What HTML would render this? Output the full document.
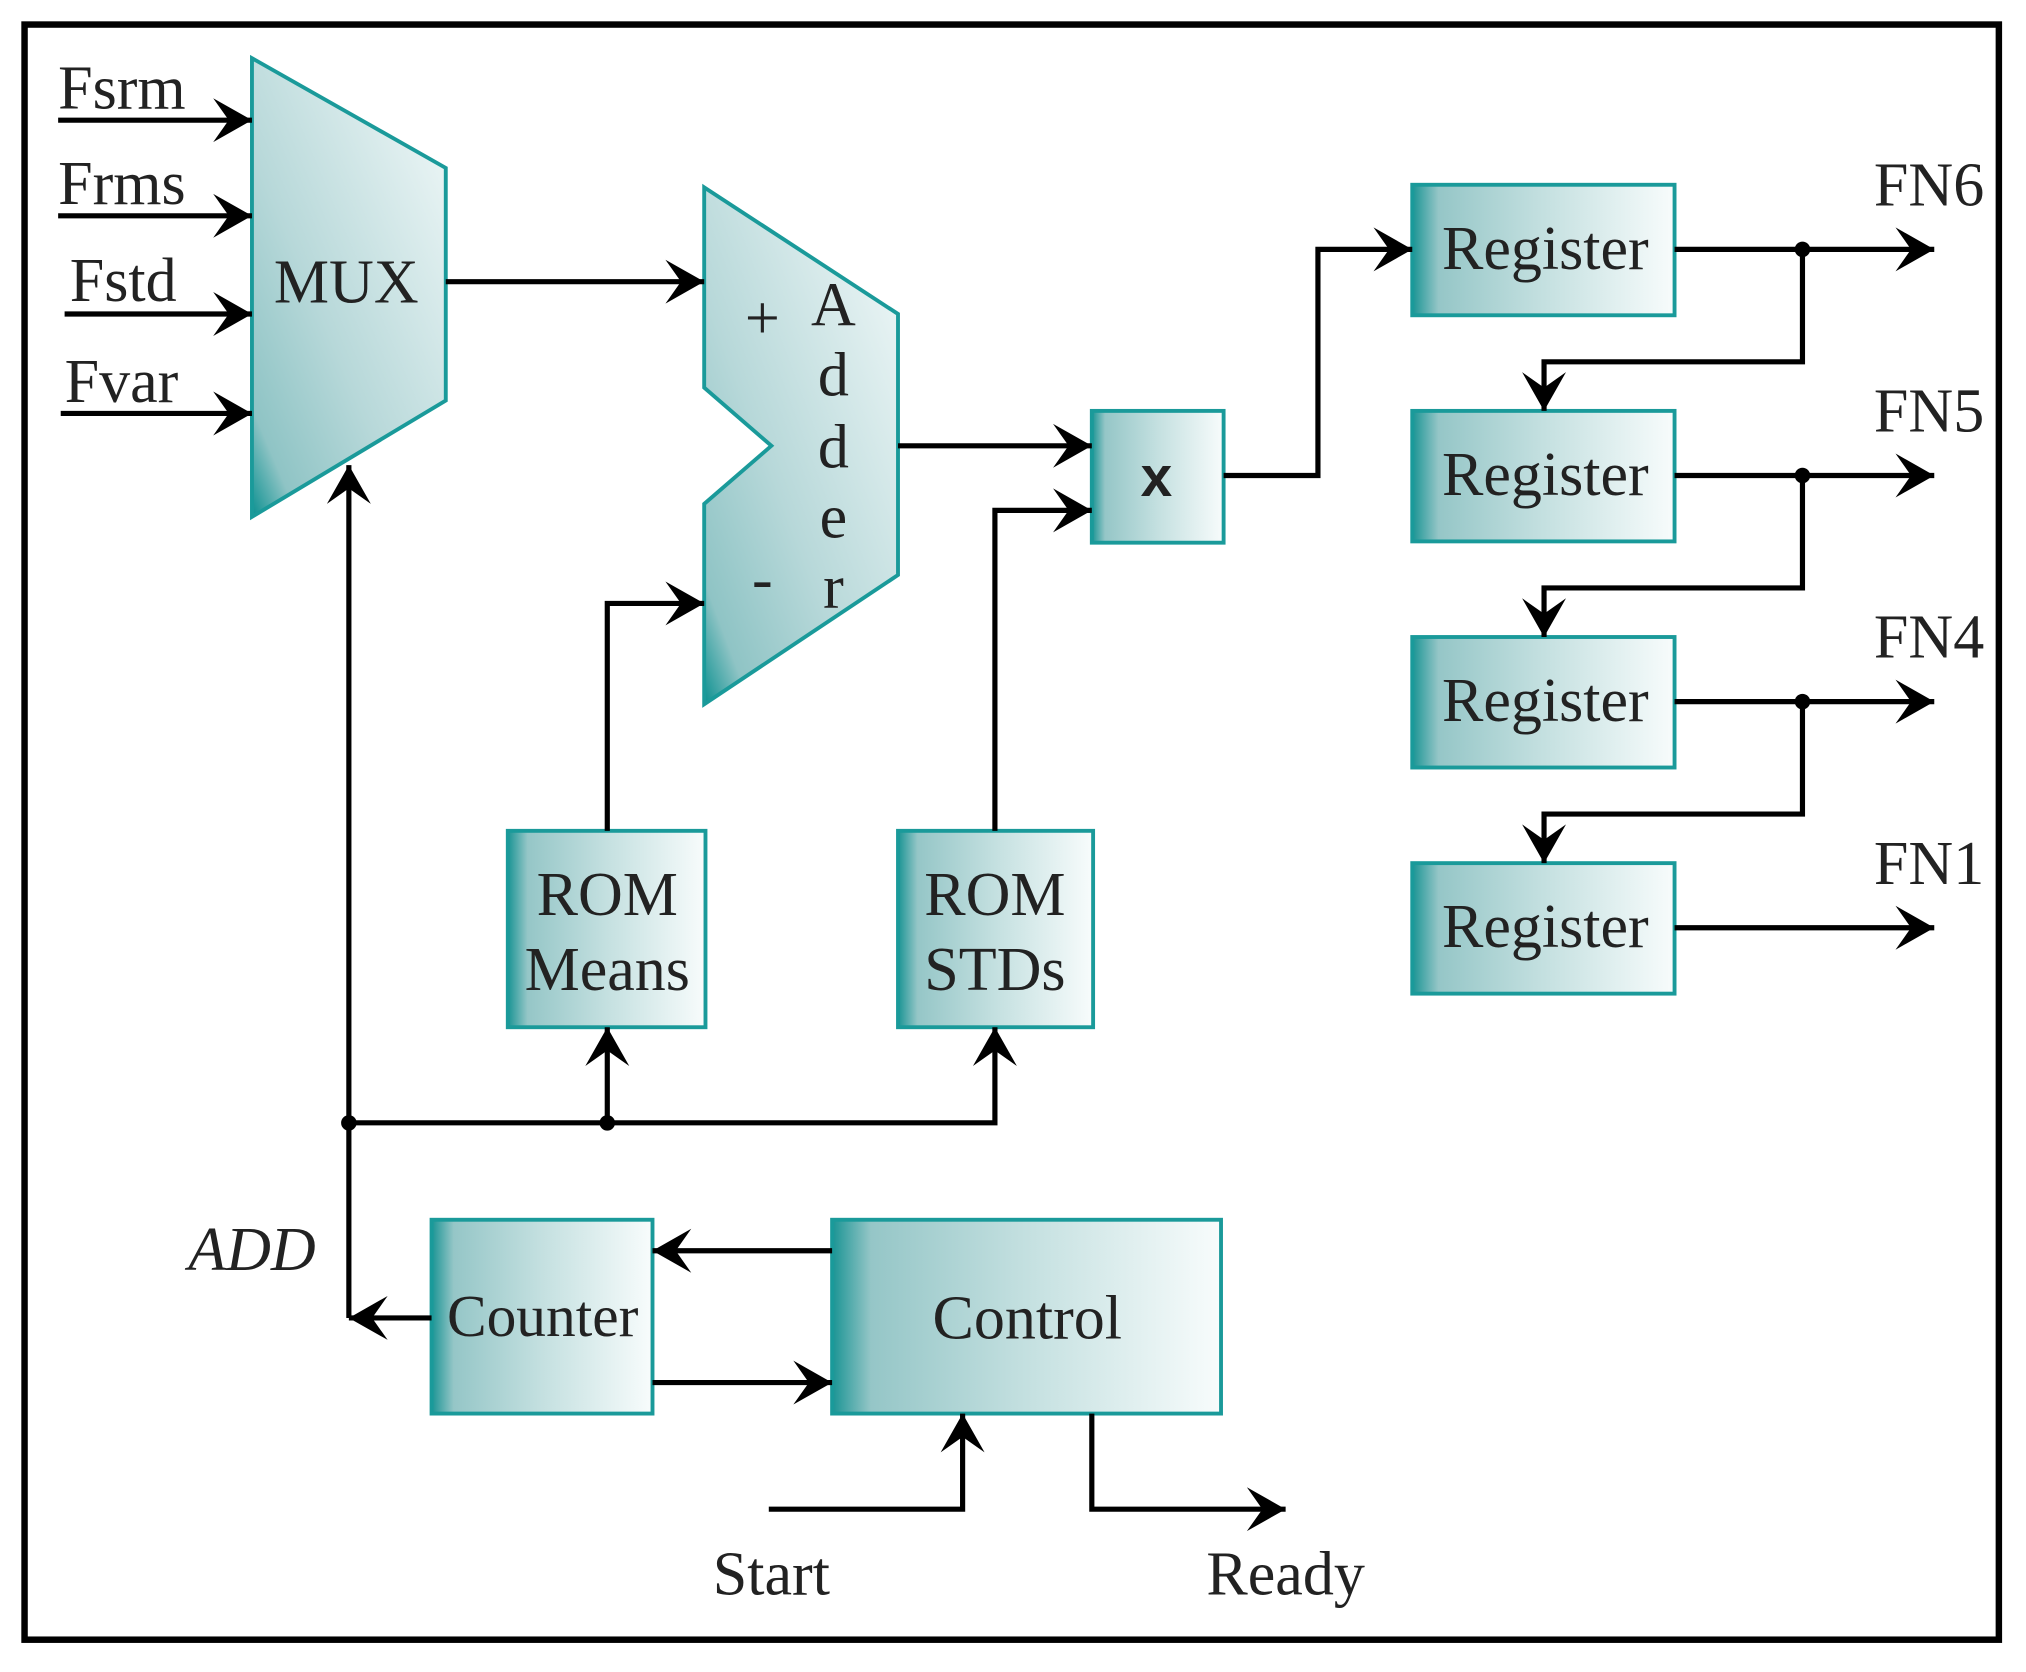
<!DOCTYPE html>
<html><head><meta charset="utf-8"><style>html,body{margin:0;padding:0;background:#fff}svg{display:block}</style></head>
<body>
<svg width="2026" height="1672" viewBox="0 0 1568 1294" preserveAspectRatio="none" xmlns="http://www.w3.org/2000/svg">
<defs>
<linearGradient id="gt" x1="0" y1="1" x2="1" y2="0">
<stop offset="0" stop-color="#0a9090"/><stop offset="0.12" stop-color="#8fc4c5"/><stop offset="0.4" stop-color="#b7d8d9"/><stop offset="1" stop-color="#f4fafa"/></linearGradient>
<linearGradient id="gb" x1="0" y1="0" x2="1" y2="0">
<stop offset="0" stop-color="#1a9494"/><stop offset="0.1" stop-color="#95c6c7"/><stop offset="0.5" stop-color="#c4e0e0"/><stop offset="1" stop-color="#f8fcfc"/></linearGradient>
<marker id="a" markerUnits="userSpaceOnUse" markerWidth="40" markerHeight="40" viewBox="-32 -20 40 40" refX="0" refY="0" orient="auto">
<path d="M0,0 L-30,-17 L-18,0 L-30,17 Z" fill="#000"/></marker>
</defs>
<rect x="0" y="0" width="1568" height="1294" fill="#fff"/>
<rect x="19" y="19" width="1528" height="1250" fill="none" stroke="#000" stroke-width="5"/>
<g font-family="Liberation Serif, serif" font-size="48" fill="#222">
<polygon points="195,45 345,130 345,310 195,400" fill="url(#gt)" stroke="#1a9a9a" stroke-width="3"/>
<text x="268" y="234" text-anchor="middle">MUX</text>
<g stroke="#000" stroke-width="4" fill="none" marker-end="url(#a)">
<line x1="45" y1="93" x2="195" y2="93"/>
<line x1="45" y1="167" x2="195" y2="167"/>
<line x1="50" y1="243" x2="195" y2="243"/>
<line x1="47" y1="320" x2="195" y2="320"/>
</g>
<text x="45" y="84">Fsrm</text>
<text x="45" y="158">Frms</text>
<text x="54" y="233">Fstd</text>
<text x="50" y="311">Fvar</text>
<polygon points="545,145 695,243 695,445 545,545 545,390 597,345 545,300" fill="url(#gt)" stroke="#1a9a9a" stroke-width="3"/>
<text x="590" y="262" text-anchor="middle">+</text>
<text x="590" y="464" text-anchor="middle">-</text>
<g text-anchor="middle">
<text x="645" y="252">A</text><text x="645" y="306">d</text><text x="645" y="362">d</text><text x="645" y="416">e</text><text x="645" y="470">r</text>
</g>
<rect x="845" y="318" width="102" height="102" fill="url(#gb)" stroke="#1a9a9a" stroke-width="3"/>
<text x="895" y="384" text-anchor="middle" font-family="Liberation Sans, sans-serif" font-weight="bold" font-size="44">x</text>
<rect x="393" y="643" width="153" height="152" fill="url(#gb)" stroke="#1a9a9a" stroke-width="3"/>
<text x="470" y="708" text-anchor="middle">ROM</text><text x="470" y="766" text-anchor="middle">Means</text>
<rect x="695" y="643" width="151" height="152" fill="url(#gb)" stroke="#1a9a9a" stroke-width="3"/>
<text x="770" y="708" text-anchor="middle">ROM</text><text x="770" y="766" text-anchor="middle">STDs</text>
<rect x="334" y="944" width="171" height="150" fill="url(#gb)" stroke="#1a9a9a" stroke-width="3"/>
<text x="420" y="1034" text-anchor="middle" font-size="46">Counter</text>
<rect x="644" y="944" width="301" height="150" fill="url(#gb)" stroke="#1a9a9a" stroke-width="3"/>
<text x="795" y="1036" text-anchor="middle">Control</text>
<text x="195" y="983" text-anchor="middle" font-style="italic">ADD</text>
<text x="597" y="1234" text-anchor="middle">Start</text>
<text x="995" y="1234" text-anchor="middle">Ready</text>
<rect x="1093" y="143" width="203" height="101" fill="url(#gb)" stroke="#1a9a9a" stroke-width="3"/>
<rect x="1093" y="318" width="203" height="101" fill="url(#gb)" stroke="#1a9a9a" stroke-width="3"/>
<rect x="1093" y="493" width="203" height="101" fill="url(#gb)" stroke="#1a9a9a" stroke-width="3"/>
<rect x="1093" y="668" width="203" height="101" fill="url(#gb)" stroke="#1a9a9a" stroke-width="3"/>
<g text-anchor="middle">
<text x="1196" y="208">Register</text><text x="1196" y="383">Register</text><text x="1196" y="558">Register</text><text x="1196" y="733">Register</text>
<text x="1493" y="159">FN6</text><text x="1493" y="334">FN5</text><text x="1493" y="509">FN4</text><text x="1493" y="684">FN1</text>
</g>
</g>
<g stroke="#000" stroke-width="4" fill="none" marker-end="url(#a)">
<line x1="345" y1="218" x2="545" y2="218"/>
<line x1="695" y1="345" x2="845" y2="345"/>
<polyline points="770,643 770,395 845,395"/>
<polyline points="470,643 470,467 545,467"/>
<polyline points="270,1020 270,360"/>
<polyline points="470,869 470,795"/>
<polyline points="270,869 770,869 770,795"/>
<line x1="644" y1="968" x2="505" y2="968"/>
<line x1="505" y1="1070" x2="644" y2="1070"/>
<line x1="334" y1="1020" x2="270" y2="1020"/>
<polyline points="595,1168 745,1168 745,1094"/>
<polyline points="845,1094 845,1168 995,1168"/>
<polyline points="947,368 1020,368 1020,193 1093,193"/>
<line x1="1296" y1="193" x2="1497" y2="193"/>
<line x1="1296" y1="368" x2="1497" y2="368"/>
<line x1="1296" y1="543" x2="1497" y2="543"/>
<line x1="1296" y1="718" x2="1497" y2="718"/>
<polyline points="1395,193 1395,280 1195,280 1195,318"/>
<polyline points="1395,368 1395,455 1195,455 1195,493"/>
<polyline points="1395,543 1395,630 1195,630 1195,668"/>
</g>
<g fill="#000">
<circle cx="270" cy="869" r="6"/><circle cx="470" cy="869" r="6"/>
<circle cx="1395" cy="193" r="6"/><circle cx="1395" cy="368" r="6"/><circle cx="1395" cy="543" r="6"/>
</g>
</svg>
</body></html>
